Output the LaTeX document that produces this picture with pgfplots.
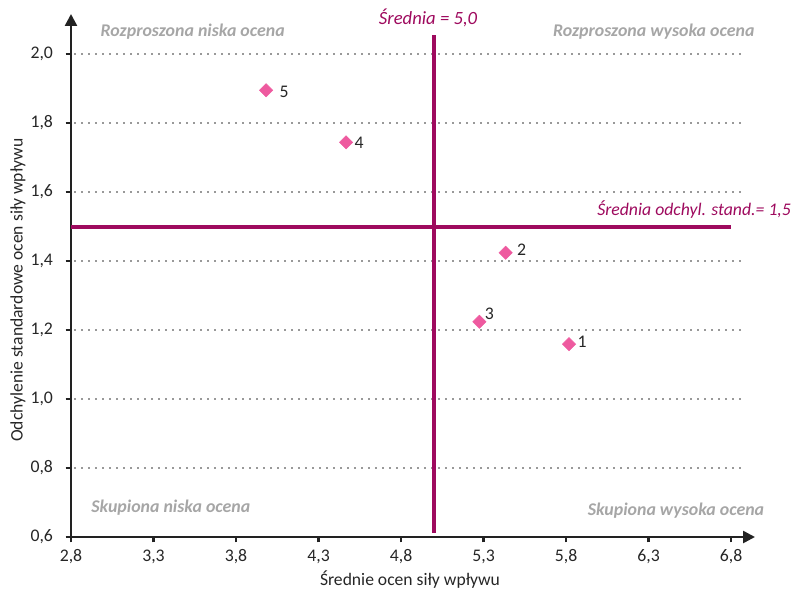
\documentclass[border=0pt]{standalone}
\usepackage{pgfplots}
\pgfplotsset{compat=1.18}
\usepackage{pgfplotstable}
\usetikzlibrary{arrows.meta}
\usepackage{fontspec}
\setmainfont{Carlito}
\definecolor{magline}{HTML}{9E0A5E}
\definecolor{pinkpt}{HTML}{EE5A9F}
\definecolor{qgray}{HTML}{A6A6A6}
\definecolor{axc}{HTML}{222222}
\definecolor{txt}{HTML}{262626}
\pgfplotstableread{
x y lbl dx dy
5.818 1.159 1 9.75 1.9
5.434 1.424 2 12 2.25
5.275 1.224 3 7.5 6
4.467 1.744 4 9.75 0
3.982 1.895 5 13.5 -1.5
}\pts
\begin{document}
\begin{tikzpicture}
\path[use as bounding box] (-53.25pt,-42pt) rectangle (540pt,402.75pt);
\begin{axis}[
  scale only axis,
  width=513pt, height=392.25pt,
  xmin=2.8, xmax=6.945, ymin=0.6, ymax=2.116,
  axis lines=left,
  axis line style={axc, line width=1.9pt, -{Triangle[length=9pt,width=9pt]}},
  xtick={2.8,3.3,3.8,4.3,4.8,5.3,5.8,6.3,6.8},
  ytick={0.6,0.8,1.0,1.2,1.4,1.6,1.8,2.0},
  tick align=outside,
  major tick length=4pt,
  tick style={axc, line width=1.9pt},
  /pgf/number format/.cd, use comma, fixed, fixed zerofill, precision=1, assume math mode=true,
  /pgfplots/.cd,
  ticklabel style={font=\fontsize{13.3}{15}\selectfont, text=txt},
  yticklabel style={xshift=-6pt},
  xticklabel style={yshift=-2pt},
  xlabel={Średnie ocen siły wpływu},
  ylabel={Odchylenie standardowe ocen siły wpływu},
  label style={font=\fontsize{13.2}{15}\selectfont, text=txt},
  xlabel style={at={(axis description cs:0.4956,-0.0822)}, anchor=center},
  ylabel style={at={(axis description cs:-0.0775,0.472)}, anchor=center},
  clip=false,
]
\foreach \yy in {0.8,1.0,1.2,1.4,1.6,1.8,2.0} {
  \edef\tmp{\noexpand\draw[gray!80, line width=0.9pt, dash pattern=on 1.5pt off 3.75pt] (axis cs:2.82,\yy) -- (axis cs:6.86,\yy);}
  \tmp
}
\addplot[magline, line width=3pt, no marks] coordinates {(5.0,0.612) (5.0,2.055)};
\addplot[magline, line width=3pt, no marks] coordinates {(2.8,1.5) (6.8,1.5)};
\addplot[only marks, mark=square*, mark size=3.5pt, mark options={rotate=45, fill=pinkpt, draw=pinkpt},
  point meta=explicit symbolic,
  visualization depends on={\thisrow{dx} \as \dx},
  visualization depends on={\thisrow{dy} \as \dy},
  nodes near coords,
  nodes near coords style={anchor=center, xshift=\dx pt, yshift=\dy pt, font=\fontsize{13.3}{15}\selectfont, text=txt}]
  table[x=x, y=y, meta=lbl] {\pts};
\node[font=\fontsize{13.4}{15}\selectfont\bfseries\itshape, text=qgray] at (axis description cs:0.178,0.9656) {Rozproszona niska ocena};
\node[font=\fontsize{13.4}{15}\selectfont\bfseries\itshape, text=qgray] at (axis description cs:0.852,0.9656) {Rozproszona wysoka ocena};
\node[font=\fontsize{13.4}{15}\selectfont\bfseries\itshape, text=qgray] at (axis description cs:0.146,0.0554) {Skupiona niska ocena};
\node[font=\fontsize{13.4}{15}\selectfont\bfseries\itshape, text=qgray] at (axis description cs:0.8845,0.0497) {Skupiona wysoka ocena};
\node[font=\fontsize{14}{16}\selectfont\itshape, text=magline] at (axis description cs:0.522,0.992) {Średnia = 5,0};
\node[font=\fontsize{13.3}{15}\selectfont\itshape, text=magline] at (axis description cs:0.911,0.627) {Średnia odchyl. stand.= 1,5};
\end{axis}
\end{tikzpicture}
\end{document}
